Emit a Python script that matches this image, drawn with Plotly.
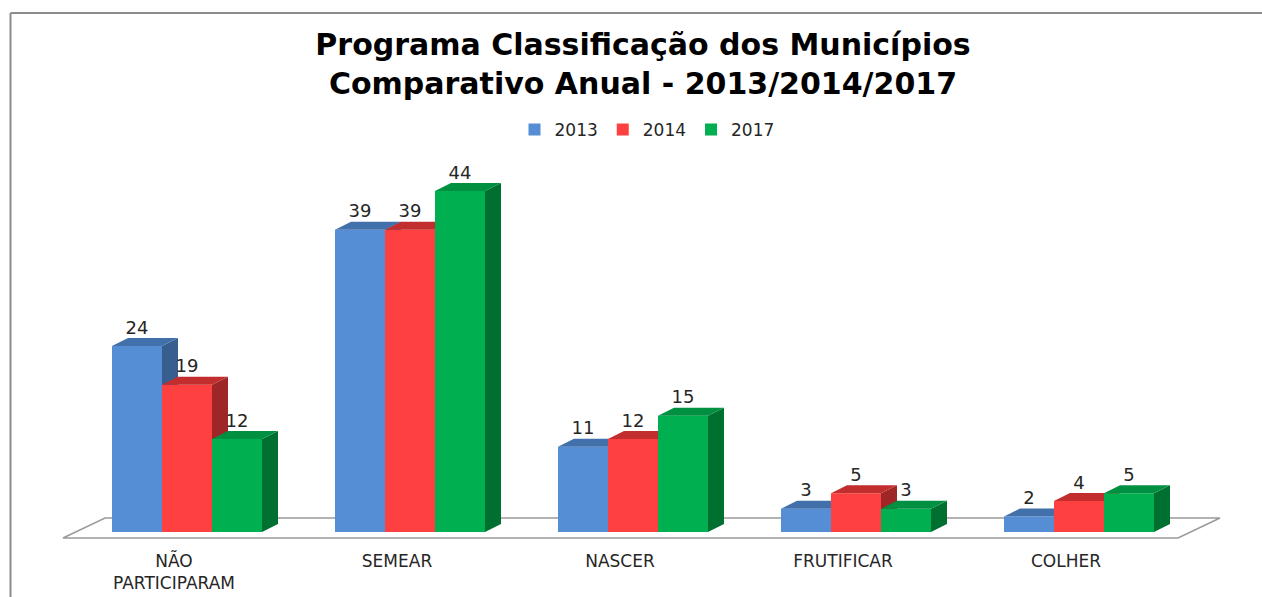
import plotly.graph_objects as go

categories = ["NÃO<br>PARTICIPARAM", "SEMEAR", "NASCER", "FRUTIFICAR", "COLHER"]
series_names = ["2013", "2014", "2017"]
values_2013 = [24, 39, 11, 3, 2]
values_2014 = [19, 39, 12, 5, 4]
values_2017 = [12, 44, 15, 3, 5]

series_values = [values_2013, values_2014, values_2017]
front_colors = ["#558ED5", "#FF4040", "#00B050"]
top_colors = ["#4170AA", "#C22E2E", "#009041"]
side_colors = ["#385D8F", "#9E2626", "#007030"]

W, H = 1262, 597
m_l, m_r, m_t, m_b = 0, 0, 140, 52
plot_w = W - m_l - m_r
plot_h = H - m_t - m_b
px_per_cat = 223.0
px_per_unit = 7.75
x0_px = 187.0   # pixel position of first category centre
y0_px = 532.0   # pixel position of value 0
x_range = [(m_l - x0_px) / px_per_cat, (W - m_r - x0_px) / px_per_cat]
y_range = [(y0_px - (H - m_b)) / px_per_unit, (y0_px - m_t) / px_per_unit]

bar_w = 50.0 / px_per_cat
depth_x = 16.0 / px_per_cat
depth_y = 8.0 / px_per_unit

idx = list(range(len(categories)))
fig = go.Figure()

for k, (name, vals) in enumerate(zip(series_names, series_values)):
    off = (k - 1.5) * bar_w
    fig.add_trace(go.Bar(
        x=idx, y=vals, width=bar_w, offset=off, name=name,
        marker=dict(color=front_colors[k], line=dict(width=0)),
        zorder=k, hoverinfo="skip",
    ))
    sx, sy = [], []
    tx, ty = [], []
    lx, ly = [], []
    for i, v in zip(idx, vals):
        xl = i + off
        xr = xl + bar_w
        sx += [xr, xr, xr + depth_x, xr + depth_x, xr, None]
        sy += [0, v, v + depth_y, depth_y, 0, None]
        tx += [xl, xl + depth_x, xr + depth_x, xr, xl, None]
        ty += [v, v + depth_y, v + depth_y, v, v, None]
        lx.append(xl + bar_w / 2)
        ly.append(v + depth_y)
    fig.add_trace(go.Scatter(
        x=sx, y=sy, mode="lines", fill="toself", fillcolor=side_colors[k],
        line=dict(width=0, color=side_colors[k]), showlegend=False,
        hoverinfo="skip", zorder=k,
    ))
    fig.add_trace(go.Scatter(
        x=tx, y=ty, mode="lines", fill="toself", fillcolor=top_colors[k],
        line=dict(width=0, color=top_colors[k]), showlegend=False,
        hoverinfo="skip", zorder=k,
    ))
    fig.add_trace(go.Scatter(
        x=lx, y=ly, mode="text", text=[str(v) for v in vals],
        textposition="top center",
        textfont=dict(family="DejaVu Sans", size=18, color="#262626"),
        showlegend=False, hoverinfo="skip", zorder=5,
    ))

# floor (3D base plane)
fl_front_y = (y0_px - 538) / px_per_unit
fl_back_y = (y0_px - 518) / px_per_unit
fl_x0 = (63 - x0_px) / px_per_cat
fl_x1 = (1178 - x0_px) / px_per_cat
fl_dx = 42 / px_per_cat
fig.add_shape(
    type="path", xref="x", yref="y", layer="below",
    path=(f"M {fl_x0},{fl_front_y} L {fl_x0 + fl_dx},{fl_back_y} "
          f"L {fl_x1 + fl_dx},{fl_back_y} L {fl_x1},{fl_front_y} Z"),
    line=dict(color="#9A9A9A", width=1.5), fillcolor="rgba(0,0,0,0)",
)

# outer chart frame (left and top edges)
frame_top = (H - m_b - 13) / plot_h
frame_left = 10.5 / plot_w
fig.add_shape(type="line", xref="paper", yref="paper",
              x0=frame_left, x1=frame_left, y0=frame_top, y1=-0.2,
              line=dict(color="#8C8C8C", width=2))
fig.add_shape(type="line", xref="paper", yref="paper",
              x0=frame_left, x1=1.0, y0=frame_top, y1=frame_top,
              line=dict(color="#8C8C8C", width=2))

fig.update_layout(
    width=W, height=H,
    margin=dict(l=m_l, r=m_r, t=m_t, b=m_b),
    paper_bgcolor="white", plot_bgcolor="white",
    barmode="overlay",
    title=dict(
        text="Programa Classificação dos Municípios<br>Comparativo Anual - 2013/2014/2017",
        x=643 / W, xanchor="center", xref="paper",
        y=1 - 55 / H, yanchor="middle", yref="container",
        font=dict(family="DejaVu Sans", size=30, color="#000000", weight="bold"),
    ),
    legend=dict(
        orientation="h", x=647 / W, xanchor="center",
        y=(H - m_b - 130) / plot_h, yanchor="middle",
        font=dict(family="DejaVu Sans", size=17, color="#262626"),
        itemwidth=30, traceorder="normal",
    ),
    showlegend=True,
    xaxis=dict(
        range=x_range, showgrid=False, zeroline=False, showline=False,
        tickmode="array", tickvals=idx, ticktext=categories,
        ticks="", ticklabelshift=-13, ticklabelstandoff=4,
        tickfont=dict(family="DejaVu Sans", size=17, color="#262626"),
        fixedrange=True,
    ),
    yaxis=dict(
        range=y_range, showgrid=False, zeroline=False, showline=False,
        showticklabels=False, ticks="", fixedrange=True,
    ),
)

fig.write_html(
    "out.html",
    config={"displayModeBar": False},
    post_script="document.body.style.margin='0';document.body.style.overflow='hidden';",
)
